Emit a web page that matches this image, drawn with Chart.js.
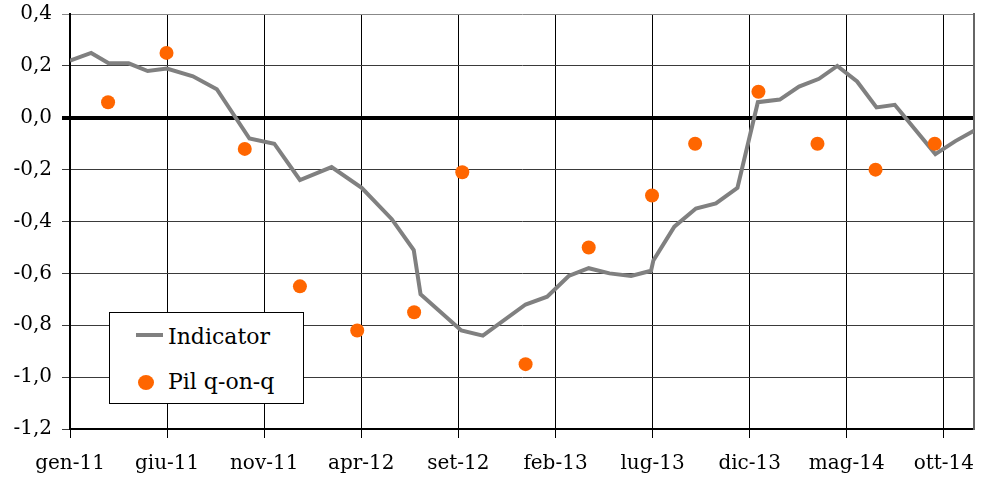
<!DOCTYPE html>
<html>
<head>
<meta charset="utf-8">
<script src="https://cdn.jsdelivr.net/npm/chart.js@4"></script>
<style>
  html, body { margin: 0; padding: 0; background: #fff; }
  #wrap { position: relative; width: 981px; height: 486px; }
  #legend { position: absolute; left: 109px; top: 312px; width: 193px; height: 90px;
            border: 1px solid #000; background: #fff; font-family: "DejaVu Serif", serif;
            font-size: 22px; color: #000; }
  #legend .txt { position: absolute; left: 58px; line-height: 22px; white-space: nowrap; }
  #legend .ln { position: absolute; left: 26px; top: 20px; width: 27px; height: 4px; }
  #legend .dot { position: absolute; left: 28px; top: 62px; width: 16px; height: 15px; border-radius: 50%; }
</style>
</head>
<body>
<div id="wrap">
  <canvas id="c" width="981" height="486"></canvas>
  <div id="legend"></div>
</div>
<script>
// ---- data (x = months since gen-11) ----
const xTickLabels = ['gen-11','giu-11','nov-11','apr-12','set-12','feb-13','lug-13','dic-13','mag-14','ott-14'];
const xTickStep = 5; // months between labelled ticks
const yTickLabels = ['-1,2','-1,0','-0,8','-0,6','-0,4','-0,2','0,0','0,2','0,4'];

const indicatorLabel = 'Indicator';
const indicatorMonths = [0, 1.09, 1.99, 3.02, 4.0, 4.99, 6.33, 7.56, 9.24, 10.52, 11.84, 13.47, 15.02, 16.56, 17.7, 18.05,
  20.15, 21.26, 23.46, 24.57, 25.68, 26.71, 27.78, 28.89, 29.92, 30.04, 31.12, 32.23, 33.26, 34.37, 35.42,
  36.55, 37.54, 38.57, 39.51, 40.53, 41.53, 42.47, 44.56, 45.59, 46.55];
const indicatorValues = [0.22, 0.25, 0.21, 0.21, 0.18, 0.19, 0.16, 0.11, -0.08, -0.10, -0.24, -0.19, -0.27, -0.39, -0.51, -0.68,
  -0.82, -0.84, -0.72, -0.69, -0.61, -0.58, -0.60, -0.61, -0.59, -0.55, -0.42, -0.35, -0.33, -0.27, 0.06,
  0.07, 0.12, 0.15, 0.20, 0.14, 0.04, 0.05, -0.14, -0.09, -0.05];

const pilLabel = 'Pil q-on-q';
const pilMonths = [1.96, 4.97, 9.0, 11.84, 14.79, 17.72, 20.2, 23.46, 26.71, 29.97, 32.19, 35.45, 38.49, 41.48, 44.53];
const pilValues = [0.06, 0.25, -0.12, -0.65, -0.82, -0.75, -0.21, -0.95, -0.50, -0.30, -0.10, 0.10, -0.10, -0.20, -0.10];

const xMax = 46.55;
const lineColor = '#808080';
const dotColor = '#FF6600';
const fontFamily = '"DejaVu Serif", serif';

const toXY = (xs, ys) => xs.map((x, i) => ({ x: x, y: ys[i] }));
const noPad = (s) => { s.paddingTop = 0; s.paddingBottom = 0; s.paddingLeft = 0; s.paddingRight = 0; };

const chart = new Chart(document.getElementById('c'), {
  type: 'scatter',
  data: {
    datasets: [
      { label: pilLabel, data: toXY(pilMonths, pilValues), showLine: false,
        pointRadius: 7, pointHoverRadius: 7, backgroundColor: dotColor, borderWidth: 0, order: 0 },
      { label: indicatorLabel, data: toXY(indicatorMonths, indicatorValues), showLine: true,
        borderColor: lineColor, borderWidth: 4, pointRadius: 0, tension: 0, fill: false, order: 1,
        borderJoinStyle: 'miter' }
    ]
  },
  options: {
    responsive: false,
    animation: false,
    devicePixelRatio: 1,
    layout: { padding: { top: 14, right: 6, left: 0, bottom: 0 } },
    plugins: { legend: { display: false }, tooltip: { enabled: false } },
    scales: {
      x: {
        type: 'linear', min: 0, max: xMax,
        afterBuildTicks: (s) => { s.ticks = xTickLabels.map((_, i) => ({ value: i * xTickStep })); },
        afterFit: (s) => { s.height = 57; noPad(s); },
        ticks: { autoSkip: false, maxRotation: 0, padding: 14, color: '#000',
                 font: { family: fontFamily, size: 20 },
                 callback: (v) => xTickLabels[Math.round(v / xTickStep)] },
        grid: { color: '#000', lineWidth: 1, tickLength: 9, drawTicks: true },
        border: { color: '#000', width: 2 }
      },
      y: {
        min: -1.2, max: 0.4,
        afterFit: (s) => { s.width = 70; noPad(s); },
        ticks: { stepSize: 0.2, padding: 10, color: '#000',
                 font: { family: fontFamily, size: 20 },
                 callback: (v, i) => yTickLabels[i] },
        grid: {
          tickLength: 8,
          color: (ctx) => {
            const v = ctx.tick ? ctx.tick.value : null;
            if (v !== null && Math.abs(v) < 1e-9) return '#000';
            if (v !== null && Math.abs(v - 0.4) < 1e-9) return '#888';
            return '#3a3a3a';
          },
          lineWidth: (ctx) => (ctx.tick && Math.abs(ctx.tick.value) < 1e-9) ? 4 : 1
        },
        border: { color: '#000', width: 2 }
      },
      yRight: {
        position: 'right', min: -1.2, max: 0.4,
        afterFit: (s) => { s.width = 0; noPad(s); },
        ticks: { display: false },
        grid: { display: false, drawTicks: false },
        border: { display: true, color: '#666', width: 2 }
      }
    }
  }
});

// HTML legend built from the datasets
const legend = document.getElementById('legend');
legend.innerHTML =
  '<div class="ln" style="background:' + lineColor + '"></div>' +
  '<div class="txt" style="top:13px">' + indicatorLabel + '</div>' +
  '<div class="dot" style="background:' + dotColor + '"></div>' +
  '<div class="txt" style="top:58px">' + pilLabel + '</div>';
</script>
</body>
</html>
